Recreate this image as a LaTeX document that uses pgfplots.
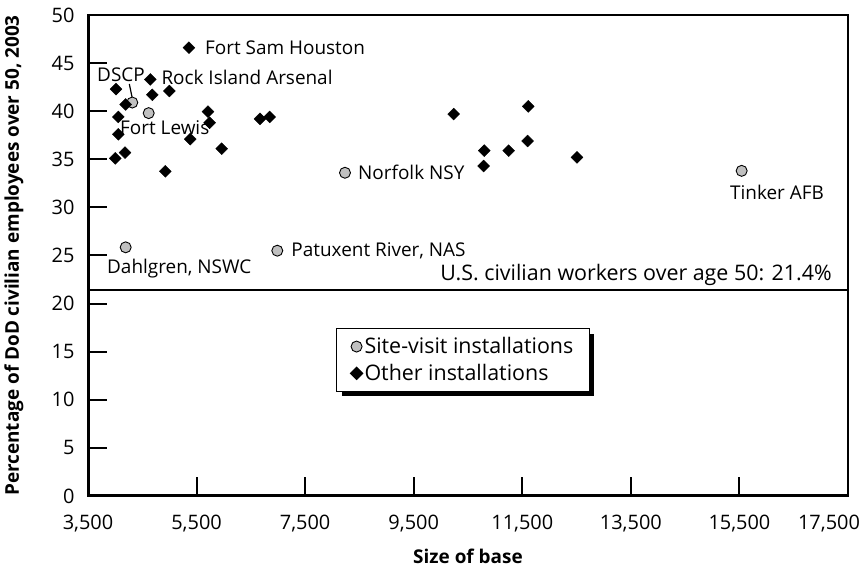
\documentclass[border=0pt]{standalone}
\usepackage{pgfplots}
\pgfplotsset{compat=1.18}
\usepackage{fontspec}
\setmainfont{Open Sans}
\usetikzlibrary{shadows}
\newcommand{\fs}{\fontsize{19}{22}\selectfont}
\newcommand{\tfs}{\fontsize{20}{22}\selectfont}
\newcommand{\lfs}{\fontsize{21.5}{24}\selectfont}
\definecolor{sitegray}{HTML}{C0C0C0}

\pgfplotstableread{
x y
4316 40.9
4618 39.8
8234 33.6
4194 25.85
6987 25.5
15541 33.8
}\sitevisit

\pgfplotstableread{
x y
5360 46.6
4648 43.3
4016 42.3
4685 41.7
4998 42.1
4194 40.7
4058 39.4
5710 39.95
5741 38.8
6668 39.2
6847 39.4
4058 37.6
5384 37.1
5963 36.1
4003 35.1
4182 35.7
4924 33.75
10236 39.7
11610 40.5
11597 36.9
10800 35.9
11249 35.9
10788 34.3
12507 35.2
}\other

\begin{document}
\begin{tikzpicture}
\begin{axis}[
  scale only axis, width=760bp, height=481bp,
  xmin=3500, xmax=17500, ymin=0, ymax=50,
  xtick={3500,5500,...,17500}, ytick={0,5,...,50},
  xticklabels={{3,500},{5,500},{7,500},{9,500},{11,500},{13,500},{15,500},{\makebox[0pt]{\hspace*{-38bp}17,500}}},
  scaled x ticks=false,
  tick align=inside, tick pos=left,
  major tick length=19bp,
  tick style={draw=black, line width=2bp},
  axis line style={line width=1.4bp},
  /pgf/number format/assume math mode=true,
  ticklabel style={font=\tfs},
  xticklabel style={yshift=-16bp},
  yticklabel style={xshift=-10bp},
  xlabel={Size of base},
  ylabel={Percentage of DoD civilian employees over 50, 2003},
  label style={font=\fontsize{19}{22}\selectfont\bfseries},
  xlabel style={at={(rel axis cs:0.5,-0.125)}, anchor=center},
  ylabel style={at={(rel axis cs:-0.0974,0.5)}, anchor=center},
  legend style={at={(axis cs:8068,17.46)}, anchor=north west, draw=black,
    line width=1.3bp, fill=white, font=\lfs, nodes={font=\lfs, inner sep=2bp},
    inner xsep=14bp, inner ysep=7bp,
    drop shadow={shadow xshift=5bp, shadow yshift=-5bp, fill=black, opacity=1},
    row sep=5bp},
  legend cell align=left,
  legend image code/.code={\draw[#1] plot coordinates {(0.2cm,0cm)};},
]
\addplot[only marks, mark=*, mark size=5.5bp, mark options={fill=sitegray, draw=black, line width=0.9bp}] table[x=x,y=y] {\sitevisit};
\addlegendentry{Site-visit installations}
\addplot[only marks, mark=square*, mark size=4.2bp, mark options={rotate=45, fill=black, draw=black}] table[x=x,y=y] {\other};
\addlegendentry{Other installations}
\addplot[forget plot, black, line width=1.4bp] coordinates {(3500,21.4) (17500,21.4)};

\pgfplotsinvokeforeach{5500,7500,9500,11500,13500,15500}{
  \draw[line width=2bp] (axis cs:#1,0) -- (axis cs:#1,1.975);
}
\pgfplotsinvokeforeach{5,10,15,20,25,30,35,40,45}{
  \draw[line width=2bp] (axis cs:3500,#1) -- (axis cs:3850,#1);
}

\draw[line width=4.5bp, line join=miter] (rel axis cs:0,1) -- (rel axis cs:0,0) -- (rel axis cs:1,0);
\coordinate (O) at (rel axis cs:0,0);
\coordinate (T) at (rel axis cs:1,1);

\begin{scope}[every node/.style={font=\fs, inner sep=0pt}]
\node[anchor=west, xshift=16bp] at (axis cs:5360,46.6) {Fort Sam Houston};
\node[anchor=west, xshift=11bp, yshift=2bp] at (axis cs:4648,43.3) {Rock Island Arsenal};
\node[anchor=base west] at (axis cs:3666,43.04) {DSCP};
\draw[line width=1.2bp] (axis cs:4261,42.83) -- (axis cs:4316,41.34);
\node[anchor=base west] at (axis cs:4089,37.53) {Fort Lewis};
\node[anchor=west, xshift=13bp] at (axis cs:8234,33.6) {Norfolk NSY};
\node[anchor=west, xshift=14bp] at (axis cs:6987,25.5) {Patuxent River, NAS};
\node[anchor=base west] at (axis cs:3850,23.18) {Dahlgren, NSWC};
\node[anchor=base west] at (axis cs:15325,30.77) {Tinker AFB};
\node[anchor=base east, font=\lfs] at (axis cs:17204,22.45) {U.S. civilian workers over age 50: 21.4\%};
\end{scope}
\end{axis}
\path (O) ++(-88bp,-74bp);
\path (T) ++(15bp,15bp);
\end{tikzpicture}
\end{document}
